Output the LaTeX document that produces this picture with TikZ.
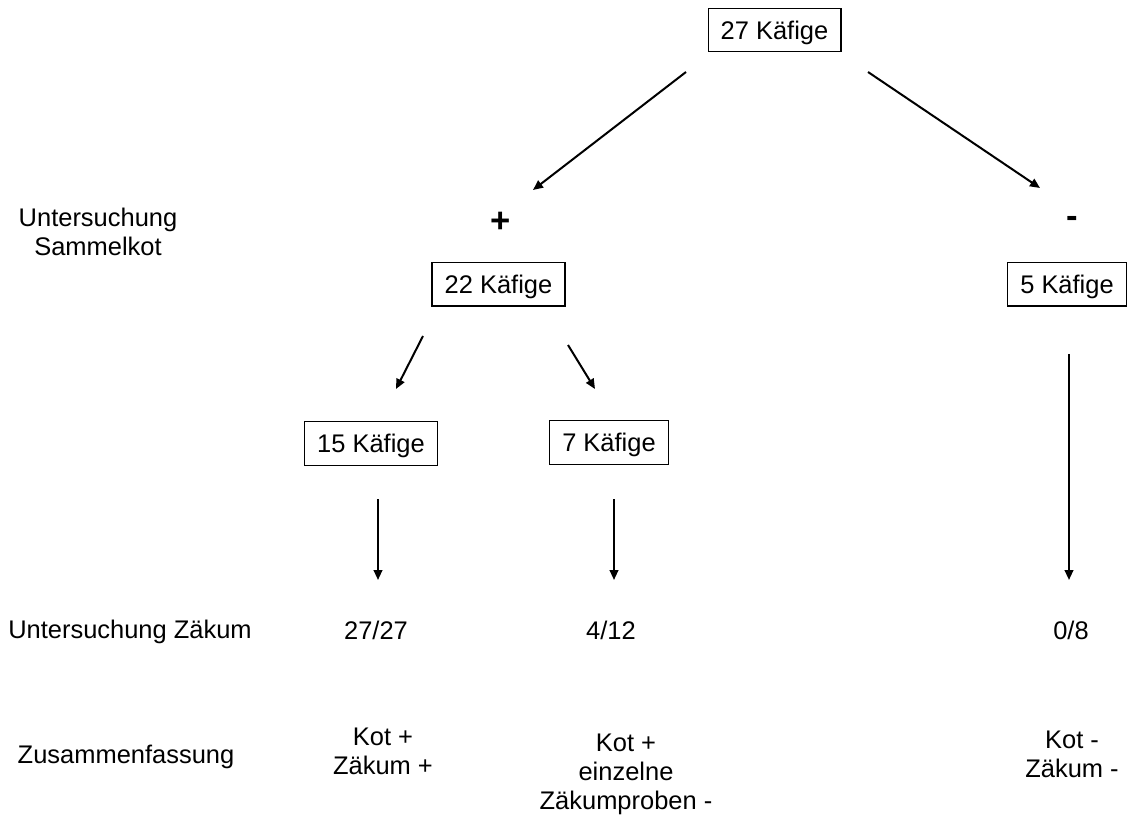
\documentclass[tikz,border=0pt]{standalone}
\usepackage{fontspec}
\setmainfont{Liberation Sans}
\usetikzlibrary{arrows.meta}
\begin{document}
\begin{tikzpicture}[x=0.75pt,y=-0.75pt,
  every node/.style={font=\fontsize{19.1pt}{21.75pt}\selectfont, inner sep=0pt},
  cagebox/.style={draw, line width=1pt, minimum height=32.5pt, inner xsep=9.4pt,
    text height=18.1pt, text depth=4.5pt},
  label/.style={align=center},
  sign/.style={font=\fontsize{26pt}{30pt}\selectfont\bfseries, anchor=base},
  flow/.style={line width=1.5pt, -{Triangle[length=7.5pt,width=6.5pt]}}]
\useasboundingbox (0,0) rectangle (1128,816);
% boxes
\node[cagebox] (b27) at (774.5,30) {27 Käfige};
\node[cagebox] (b22) at (498.5,284.5) {22 Käfige};
\node[cagebox] (b5)  at (1067,284.5) {5 Käfige};
\node[cagebox] (b15) at (371,443.5) {15 Käfige};
\node[cagebox] (b7)  at (609,442.5) {7 Käfige};
% signs
\node[sign] (plus)  at (501,233) {+};
\node[sign] (minus) at (1072,228) {-};
% row labels
\node[label] (lsammel) at (98,232) {Untersuchung\\Sammelkot};
\node[anchor=base] (lzaekum) at (130,638) {Untersuchung Zäkum};
\node[anchor=base] (lzus) at (126,763) {Zusammenfassung};
% results
\node[anchor=base] (r1) at (376,639) {27/27};
\node[anchor=base] (r2) at (611,639) {4/12};
\node[anchor=base] (r3) at (1071,639) {0/8};
% summaries (base anchor = baseline of last line)
\node[label,anchor=base] (s1) at (383,774) {Kot +\\Zäkum +};
\node[label,anchor=base] (s2) at (626,809) {Kot +\\einzelne\\Zäkumproben -};
\node[label,anchor=base] (s3) at (1072,777) {Kot -\\Zäkum -};
% connector end points
\coordinate (a1s) at (686,72);  \coordinate (a1e) at (533,190);
\coordinate (a2s) at (868,72);  \coordinate (a2e) at (1040,188);
\coordinate (a3s) at (423,336); \coordinate (a3e) at (396,389);
\coordinate (a4s) at (568,345); \coordinate (a4e) at (595,389);
\coordinate (a5s) at (378,499); \coordinate (a5e) at (378,580);
\coordinate (a6s) at (614,499); \coordinate (a6e) at (614,580);
\coordinate (a7s) at (1069,354); \coordinate (a7e) at (1069,580);
\draw[flow] (a1s) -- (a1e);
\draw[flow] (a2s) -- (a2e);
\draw[flow] (a3s) -- (a3e);
\draw[flow] (a4s) -- (a4e);
\draw[flow] (a5s) -- (a5e);
\draw[flow] (a6s) -- (a6e);
\draw[flow] (a7s) -- (a7e);
\end{tikzpicture}
\end{document}
